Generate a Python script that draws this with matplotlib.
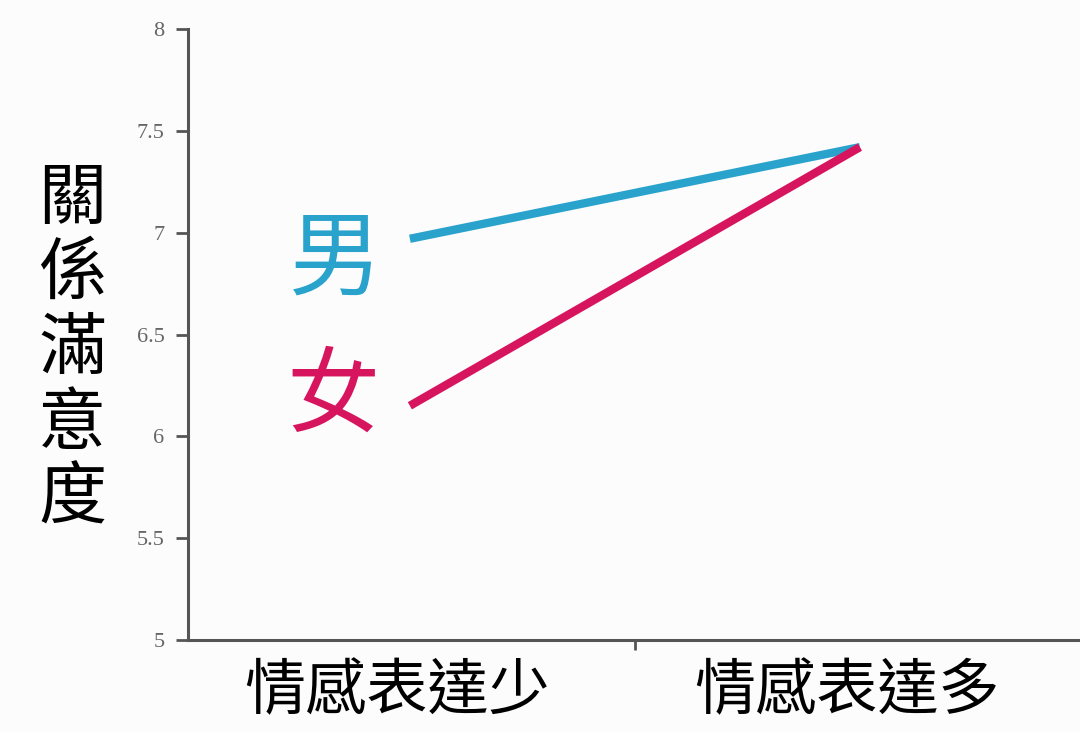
import matplotlib
matplotlib.use("Agg")
import matplotlib.pyplot as plt
from matplotlib.transforms import ScaledTranslation

plt.rcParams['font.family'] = ['Noto Sans CJK TC', 'DejaVu Sans']

categories = ["情感表達少", "情感表達多"]
men = [6.97, 7.42]
women = [6.15, 7.42]
yticks = [5, 5.5, 6, 6.5, 7, 7.5, 8]
ytick_labels = ["5", "5.5", "6", "6.5", "7", "7.5", "8"]

blue = "#2aa3cc"
red = "#d6155e"
axis_col = "#555555"

fig = plt.figure(figsize=(10.8, 7.32), dpi=100)
fig.patch.set_facecolor("#fcfcfd")
ax = fig.add_axes([188 / 1080, 1 - 640 / 732, 1 - 188 / 1080, (640 - 29) / 732])
ax.set_facecolor("#fcfcfd")

x = list(range(len(categories)))
ax.plot(x, men, color=blue, lw=6, solid_capstyle="butt")
ax.plot(x, women, color=red, lw=6, solid_capstyle="butt")

ax.set_xlim(-0.493, 1.489)
ax.set_ylim(5, 8)

for s in ("top", "right"):
    ax.spines[s].set_visible(False)
for s in ("left", "bottom"):
    ax.spines[s].set_color(axis_col)
    ax.spines[s].set_linewidth(2.2)

ax.set_yticks(yticks)
ax.set_yticklabels(ytick_labels, family=["Liberation Serif", "DejaVu Serif"],
                   fontsize=16, color="#666666")
ax.tick_params(axis="y", length=9, width=2, color=axis_col, pad=8)

# category labels under each end of the lines, one tick mark between them
ax.set_xticks(x)
ax.set_xticklabels(categories, fontsize=44)
ax.tick_params(axis="x", which="major", length=0, pad=15)
ax.set_xticks([0.5], minor=True)
ax.tick_params(axis="x", which="minor", length=7, width=2, color=axis_col)
shift = ScaledTranslation(-0.13, 0, fig.dpi_scale_trans)
for lbl in ax.get_xticklabels():
    lbl.set_transform(lbl.get_transform() + shift)

ax.text(-0.165, 6.86, "男", color=blue, fontsize=67, fontweight="medium",
        ha="center", va="center")
ax.text(-0.17, 6.19, "女", color=red, fontsize=67, fontweight="medium",
        ha="center", va="center")

fig.text(72 / 1080, 1 - 350 / 732, "\n".join("關係滿意度"), fontsize=49,
         ha="center", va="center", linespacing=1.09, fontweight="medium")

fig.savefig("out.png", dpi=100, facecolor=fig.get_facecolor())
